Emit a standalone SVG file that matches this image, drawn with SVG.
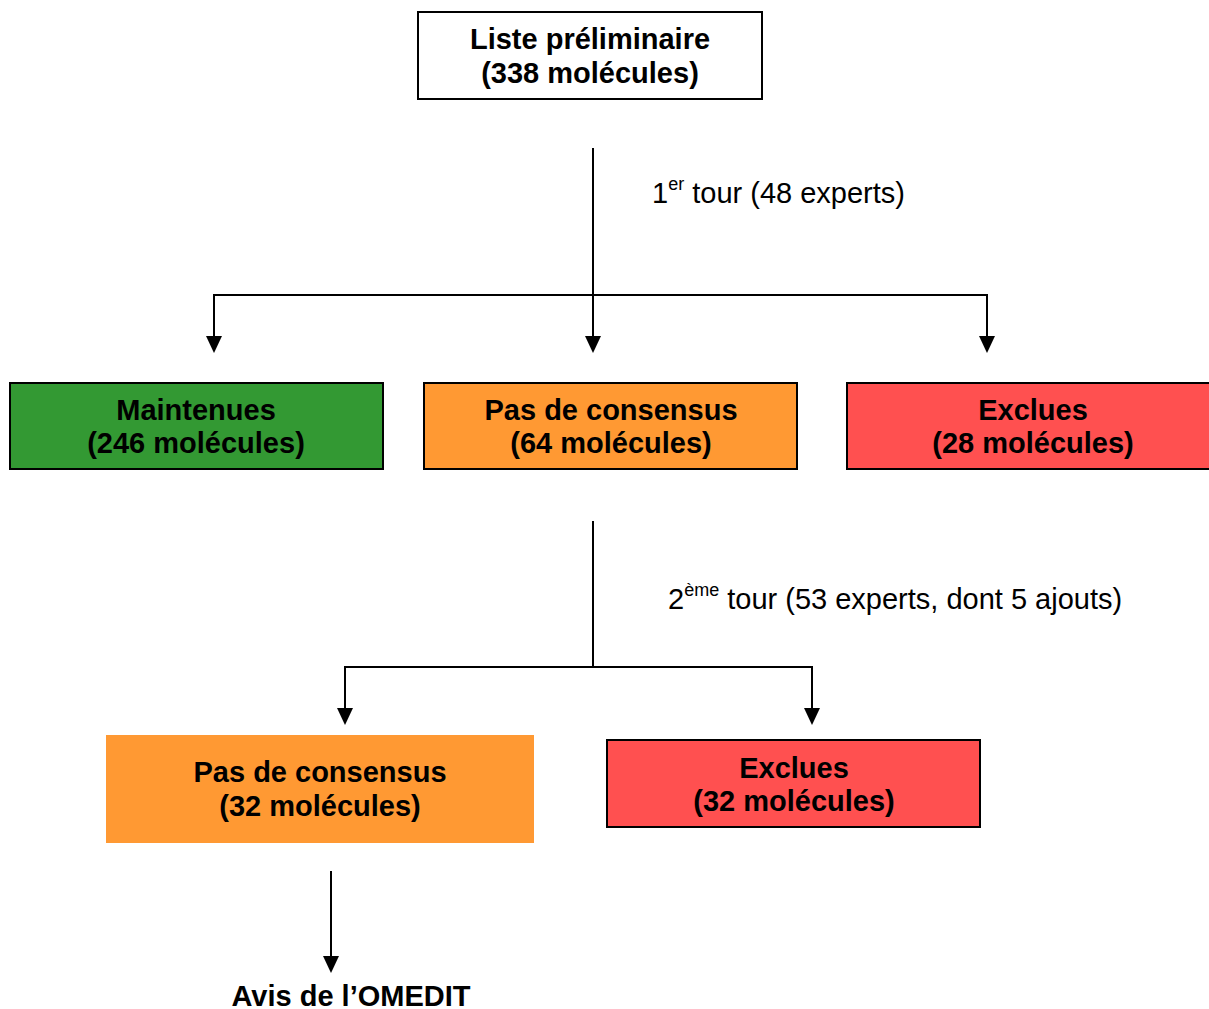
<svg xmlns="http://www.w3.org/2000/svg" width="1209" height="1009" viewBox="0 0 1209 1009">
<defs>
<style>
.box{stroke:#000;stroke-width:2}
.t{font-family:"Liberation Sans",Arial,sans-serif;font-size:29px;font-weight:bold;text-anchor:middle;fill:#000}
.l{font-family:"Liberation Sans",Arial,sans-serif;font-size:29px;fill:#000}
.ln{stroke:#000;stroke-width:2;fill:none}
.ah{fill:#000}
</style>
</defs>
<rect width="1209" height="1009" fill="#fff"/>
<g id="connectors">
<path class="ln" d="M593,148 V336"/>
<path class="ah" d="M585,336 L601,336 L593,353 Z"/>
<path class="ln" d="M214,336 V295 H987 V336"/>
<path class="ah" d="M206,336 L222,336 L214,353 Z"/>
<path class="ah" d="M979,336 L995,336 L987,353 Z"/>
<path class="ln" d="M593,521 V667"/>
<path class="ln" d="M345,708 V667 H812 V708"/>
<path class="ah" d="M337,708 L353,708 L345,725 Z"/>
<path class="ah" d="M804,708 L820,708 L812,725 Z"/>
<path class="ln" d="M331,871 V956"/>
<path class="ah" d="M323,956 L339,956 L331,973 Z"/>
</g>
<g id="label1"><text class="l" x="652" y="203">1<tspan font-size="18" dy="-13">er</tspan><tspan dy="13"> tour (48 experts)</tspan></text></g>
<g id="label2"><text class="l" x="668" y="609">2<tspan font-size="18" dy="-13">ème</tspan><tspan dy="13"> tour (53 experts, dont 5 ajouts)</tspan></text></g>
<g id="n-liste">
<rect class="box" x="418" y="12" width="344" height="87" fill="#fff"/>
<text class="t" x="590" y="49">Liste préliminaire</text>
<text class="t" x="590" y="83">(338 molécules)</text>
</g>
<g id="n-maintenues">
<rect class="box" x="10" y="383" width="373" height="86" fill="#339933"/>
<text class="t" x="196" y="420">Maintenues</text>
<text class="t" x="196" y="453">(246 molécules)</text>
</g>
<g id="n-pdc1">
<rect class="box" x="424" y="383" width="373" height="86" fill="#FF9933"/>
<text class="t" x="611" y="420">Pas de consensus</text>
<text class="t" x="611" y="453">(64 molécules)</text>
</g>
<g id="n-exclues1">
<rect class="box" x="847" y="383" width="372" height="86" fill="#FF5050"/>
<text class="t" x="1033" y="420">Exclues</text>
<text class="t" x="1033" y="453">(28 molécules)</text>
</g>
<g id="n-pdc2">
<rect x="106" y="735" width="428" height="108" fill="#FF9933"/>
<text class="t" x="320" y="782">Pas de consensus</text>
<text class="t" x="320" y="816">(32 molécules)</text>
</g>
<g id="n-exclues2">
<rect class="box" x="607" y="740" width="373" height="87" fill="#FF5050"/>
<text class="t" x="794" y="778">Exclues</text>
<text class="t" x="794" y="811">(32 molécules)</text>
</g>
<g id="n-avis">
<text class="t" x="351" y="1006">Avis de l’OMEDIT</text>
</g>
</svg>
